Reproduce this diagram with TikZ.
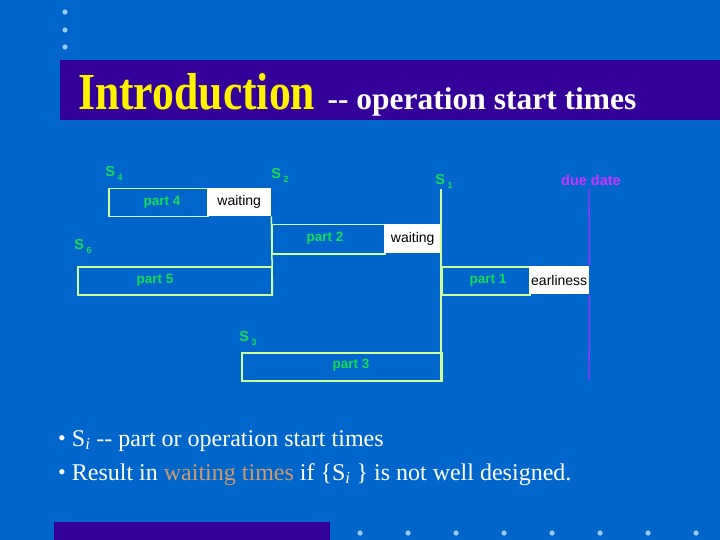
\documentclass[tikz,border=0pt]{standalone}
\usepackage{fontspec}
\setmainfont{Liberation Serif}
\setsansfont{Liberation Sans}
\usetikzlibrary{positioning}

\definecolor{slideblue}{HTML}{0066CC}
\definecolor{titlebar}{HTML}{330099}
\definecolor{dotblue}{HTML}{99CCFF}
\definecolor{boxline}{HTML}{CCFF99}
\definecolor{partgreen}{HTML}{11DD55}
\definecolor{duemag}{HTML}{CC33FF}
\definecolor{dueline}{HTML}{9933FF}
\definecolor{tancol}{HTML}{D09A6A}

\tikzset{
  partbox/.style={draw=boxline, line width=1.5pt, inner sep=0pt, anchor=north west},
  whitebox/.style={fill=white, inner sep=0pt, anchor=north west,
    font=\sffamily\fontsize{14}{16}\selectfont, text=black},
  partlbl/.style={text=partgreen, font=\sffamily\bfseries\fontsize{13.5}{15}\selectfont},
  slbl/.style={text=partgreen, font=\sffamily\bfseries\fontsize{14.5}{16}\selectfont, inner sep=1pt},
  startline/.style={draw=boxline, line width=1.5pt},
  bulletline/.style={anchor=base west, text=white, inner sep=0pt,
    font=\fontsize{24}{28}\selectfont},
  slidedot/.style={fill=dotblue, draw=none}
}
\newcommand{\sstart}[1]{S\,\raisebox{-4pt}{\fontsize{9}{10}\selectfont #1}}
\newcommand{\bul}{\raisebox{1pt}{\fontsize{22}{22}\selectfont•}\hspace{6pt}}

\begin{document}
\begin{tikzpicture}[x=1pt, y=-1pt]
  % background and bars
  \fill[slideblue] (0,0) rectangle (720,540);
  \useasboundingbox (0,0) rectangle (720,540);
  \fill[titlebar] (60,60) rectangle (720,120);
  \fill[titlebar] (54,522) rectangle (330,540);
  \foreach \y in {12,30,47}
    \fill[slidedot] (65,\y) circle (2.6);
  \foreach \x in {360,408,456,504,552,600,648,696}
    \fill[slidedot] (\x,533) circle (2.6);

  % title
  \node[anchor=base west, inner sep=0pt, text=yellow, xscale=0.84,
    font=\bfseries\fontsize{52}{56}\selectfont] (intro) at (78,110) {Introduction};
  \node[base right=12pt of intro.base east, anchor=base west, inner sep=0pt, text=white,
    font=\bfseries\fontsize{31.5}{34}\selectfont] (subtitle) {-{}- operation start times};

  % start time labels
  \node[slbl] (s4) at (114,173) {\sstart{4}};
  \node[slbl] (s2) at (280,175) {\sstart{2}};
  \node[slbl] (s1) at (444,181) {\sstart{1}};
  \node[slbl] (s6) at (83,246) {\sstart{6}};
  \node[slbl] (s3) at (248,338) {\sstart{3}};
  \node[text=duemag, font=\sffamily\bfseries\fontsize{14.5}{16}\selectfont] (due) at (591,180) {due date};

  % part boxes
  \node[partbox, minimum width=99pt, minimum height=28pt] (part4) at (108,188) {};
  \node[whitebox, minimum width=64pt, minimum height=28pt] (wait4) at (207,188) {waiting};
  \node[partbox, minimum width=113pt, minimum height=29pt] (part2) at (271,224) {};
  \node[whitebox, minimum width=57pt, minimum height=29pt] (wait2) at (384,224) {waiting};
  \node[partbox, minimum width=194pt, minimum height=28pt] (part5) at (77,266) {};
  \node[partbox, minimum width=88pt, minimum height=28pt] (part1) at (441,266) {};
  \node[whitebox, minimum width=60pt, minimum height=28pt] (early) at (529,266) {earliness};
  \node[partbox, minimum width=200pt, minimum height=28pt] (part3) at (241,352) {};

  \node[partlbl] (lbl4) at (162,202) {part 4};
  \node[partlbl] (lbl2) at (325,238) {part 2};
  \node[partlbl] (lbl5) at (155,280) {part 5};
  \node[partlbl] (lbl1) at (488,280) {part 1};
  \node[partlbl] (lbl3) at (351,365) {part 3};

  % vertical start lines
  \coordinate (s1top) at (441,189);
  \coordinate (duetop) at (589,189);
  \coordinate (dueend) at (589,380);
  \draw[startline] (wait4.south east) -- (part5.south east);
  \draw[startline] (s1top) -- (s1top |- part3.south east);
  \draw[dueline, line width=1.3pt] (duetop) -- (early.north east);
  \draw[dueline, line width=1.3pt] (early.south east) -- (dueend);

  % bullets
  \node[bulletline] (b1) at (58,446)
    {\bul S\textsubscript{\itshape i} -{}- part or operation start times};
  \node[bulletline] (b2) at (58,480)
    {\bul Result in \textcolor{tancol}{waiting times} if \{S\textsubscript{\itshape i} \} is not well designed.};
\end{tikzpicture}
\end{document}
